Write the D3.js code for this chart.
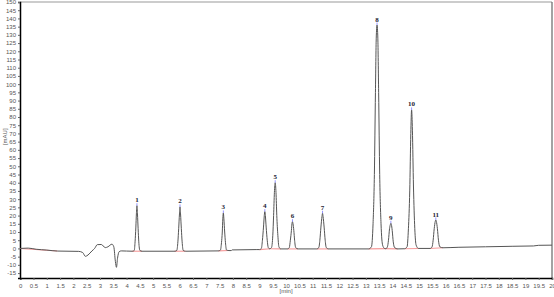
<!DOCTYPE html>
<html>
<head>
<meta charset="utf-8">
<script src="https://cdn.jsdelivr.net/npm/d3@7"></script>
<style>
  body { margin: 0; background: #fff; }
  svg { display: block; }
  .tick text { font-family: "Liberation Sans", Arial, sans-serif; font-size: 6px; fill: #555; }
  .peak-label { font-family: "Liberation Serif", "DejaVu Serif", serif; font-size: 7px; font-weight: bold; fill: #222233; }
</style>
</head>
<body>
<svg id="chart" width="554" height="297"></svg>
<script>
'use strict';

// detector trace, [time min, signal mAU]
var trace = [
  [0,0],[0.3,0.2],[0.6,-0.5],[1.0,-1],[1.4,-1.6],[2.2,-1.8],[2.35,-2.5],[2.45,-4.8],[2.55,-4],[2.7,-1.5],
  [2.8,0],[2.9,2.3],[3.05,2.4],[3.2,0.5],[3.3,1],[3.45,2.6],[3.52,1],[3.58,-8],[3.62,-11.5],[3.66,-6],
  [3.72,-2],[3.8,-1.5],[4.0,-1.6],
  [4.22,-1.7],[4.29,-1.2],[4.32,4],[4.35,13],[4.37,21],[4.39,26],[4.41,21],[4.435,12],[4.46,4],[4.5,-1.2],[4.58,-1.7],
  [5.82,-1.7],[5.89,-1.2],[5.93,4],[5.96,12],[5.99,21],[6.01,25.3],[6.03,21],[6.06,12],[6.09,4],[6.13,-1.2],[6.22,-1.7],
  [7.45,-1.5],[7.53,-1],[7.57,3.5],[7.60,10],[7.62,18],[7.64,21.6],[7.66,18],[7.69,10],[7.72,3.5],[7.76,-1],[7.85,-1.3],
  [7.94,-1.3],[7.97,-0.9],[8.9,-0.7],
  [9.0,-0.7],[9.07,0],[9.11,5],[9.15,13],[9.18,20],[9.2,22.4],[9.22,20],[9.25,13],[9.29,5],[9.33,0.5],[9.38,-0.2],
  [9.45,0.5],[9.5,8],[9.53,20],[9.56,34],[9.59,40],[9.62,34],[9.65,20],[9.69,8],[9.73,1],[9.8,-0.3],
  [10.05,-0.3],[10.12,0.5],[10.16,5],[10.2,11],[10.22,15],[10.24,16.3],[10.26,15],[10.29,11],[10.32,5],[10.36,0.5],[10.45,-0.3],
  [11.15,-0.3],[11.23,0.5],[11.27,5],[11.31,13],[11.35,19.5],[11.37,21.4],[11.39,19.5],[11.43,13],[11.47,5],[11.51,0.5],[11.6,-0.3],
  [13.1,-0.3],[13.21,1],[13.27,15],[13.32,45],[13.36,95],[13.39,128],[13.42,136],[13.45,128],[13.48,95],[13.52,45],[13.57,15],[13.63,2],[13.7,0],
  [13.75,-0.2],[13.81,1],[13.85,5],[13.89,12],[13.92,14.5],[13.94,15.3],[13.96,14.5],[13.99,11],[14.03,4],[14.08,0.5],[14.2,-0.3],
  [14.45,-0.2],[14.55,1],[14.6,12],[14.65,35],[14.69,70],[14.72,84.3],[14.75,72],[14.79,38],[14.84,12],[14.89,2],[14.98,0],
  [15.42,0],[15.49,1],[15.53,5],[15.57,12],[15.61,16.5],[15.63,17.3],[15.65,16.5],[15.69,12],[15.73,5],[15.78,1],[15.9,0.4],
  [16.5,0.7],[17.5,1],[18.5,1.3],[19.3,1.5],[19.5,1.9],[20,2]
];

// peak numbers with apex time and height
var peakNames = ["1","2","3","4","5","6","7","8","9","10","11"];
var peakTimes = [4.39, 6.01, 7.64, 9.2, 9.59, 10.24, 11.37, 13.42, 13.94, 14.72, 15.63];
var peakHeights = [26, 25.3, 21.6, 22.4, 40, 16.3, 21.4, 136, 15.3, 84.3, 17.3];

// integration baselines [t1, v1, t2, v2]
var baselines = [
  [0,0,1.4,-1.6],[4.2,-1.7,4.58,-1.7],[5.8,-1.7,6.22,-1.7],[7.45,-1.5,7.85,-1.3],
  [9.0,-0.7,9.4,-0.2],[9.4,-0.2,9.8,-0.3],[10.05,-0.3,10.45,-0.3],[11.15,-0.3,11.6,-0.3],
  [13.1,-0.3,13.72,-0.1],[13.72,-0.1,14.2,-0.3],[14.45,-0.2,15.0,0],[15.4,0,15.9,0.4]
];

var xTicks = d3.range(0, 20.01, 0.5);
var yTicks = d3.range(-15, 151, 5);

var svg = d3.select('#chart');
var x = d3.scaleLinear().domain([0, 20]).range([20.2, 552]);
var y = d3.scaleLinear().domain([-18, 150]).range([278, 2]);

// frame
svg.append('line').attr('x1', 20).attr('x2', 552).attr('y1', 2).attr('y2', 2)
	.attr('stroke', '#999').attr('stroke-width', 1);
svg.append('line').attr('x1', 552).attr('x2', 552).attr('y1', 2).attr('y2', 278)
	.attr('stroke', '#666').attr('stroke-width', 1.2);

var fmt = function (d) { return String(d); };

var xAxis = svg.append('g').attr('transform', 'translate(0,278)')
	.call(d3.axisBottom(x).tickValues(xTicks).tickSize(2).tickPadding(4).tickFormat(fmt));
xAxis.select('.domain').attr('stroke', '#000').attr('stroke-width', 1.5);
xAxis.selectAll('.tick line').attr('stroke', '#666');

var yAxis = svg.append('g').attr('transform', 'translate(20,0)')
	.call(d3.axisLeft(y).tickValues(yTicks).tickSize(2).tickPadding(2).tickFormat(fmt));
yAxis.select('.domain').attr('stroke', '#000').attr('stroke-width', 1.5);
yAxis.selectAll('.tick line').attr('stroke', '#666');

svg.append('text').attr('x', x(10)).attr('y', 293).attr('text-anchor', 'middle')
	.attr('font-family', 'Liberation Sans, sans-serif').attr('font-size', 6).attr('fill', '#555')
	.text('[min]');
svg.append('text').attr('transform', 'translate(7,' + y(68) + ') rotate(-90)').attr('text-anchor', 'middle')
	.attr('font-family', 'Liberation Sans, sans-serif').attr('font-size', 6).attr('fill', '#555')
	.text('[mAU]');

// integration baselines
svg.append('g').selectAll('line').data(baselines).join('line')
	.attr('x1', function (d) { return x(d[0]); })
	.attr('y1', function (d) { return y(d[1]); })
	.attr('x2', function (d) { return x(d[2]); })
	.attr('y2', function (d) { return y(d[3]); })
	.attr('stroke', '#f59a9a').attr('stroke-width', 1.1);

// trace
var line = d3.line()
	.x(function (d) { return x(d[0]); })
	.y(function (d) { return y(d[1]); })
	.curve(d3.curveMonotoneX);
svg.append('path').datum(trace).attr('d', line)
	.attr('fill', 'none').attr('stroke', '#555').attr('stroke-width', 1);

// apex markers and labels
var peaks = peakNames.map(function (n, i) { return { name: n, t: peakTimes[i], h: peakHeights[i] }; });
svg.append('g').selectAll('line').data(peaks).join('line')
	.attr('x1', function (d) { return x(d.t); }).attr('x2', function (d) { return x(d.t); })
	.attr('y1', function (d) { return y(d.h); }).attr('y2', function (d) { return y(d.h) - 2.5; })
	.attr('stroke', '#7a7aff').attr('stroke-width', 0.8);
svg.append('g').selectAll('text').data(peaks).join('text')
	.attr('class', 'peak-label')
	.attr('x', function (d) { return x(d.t); })
	.attr('y', function (d) { return y(d.h) - 3.5; })
	.attr('text-anchor', 'middle')
	.text(function (d) { return d.name; });
</script>
</body>
</html>
